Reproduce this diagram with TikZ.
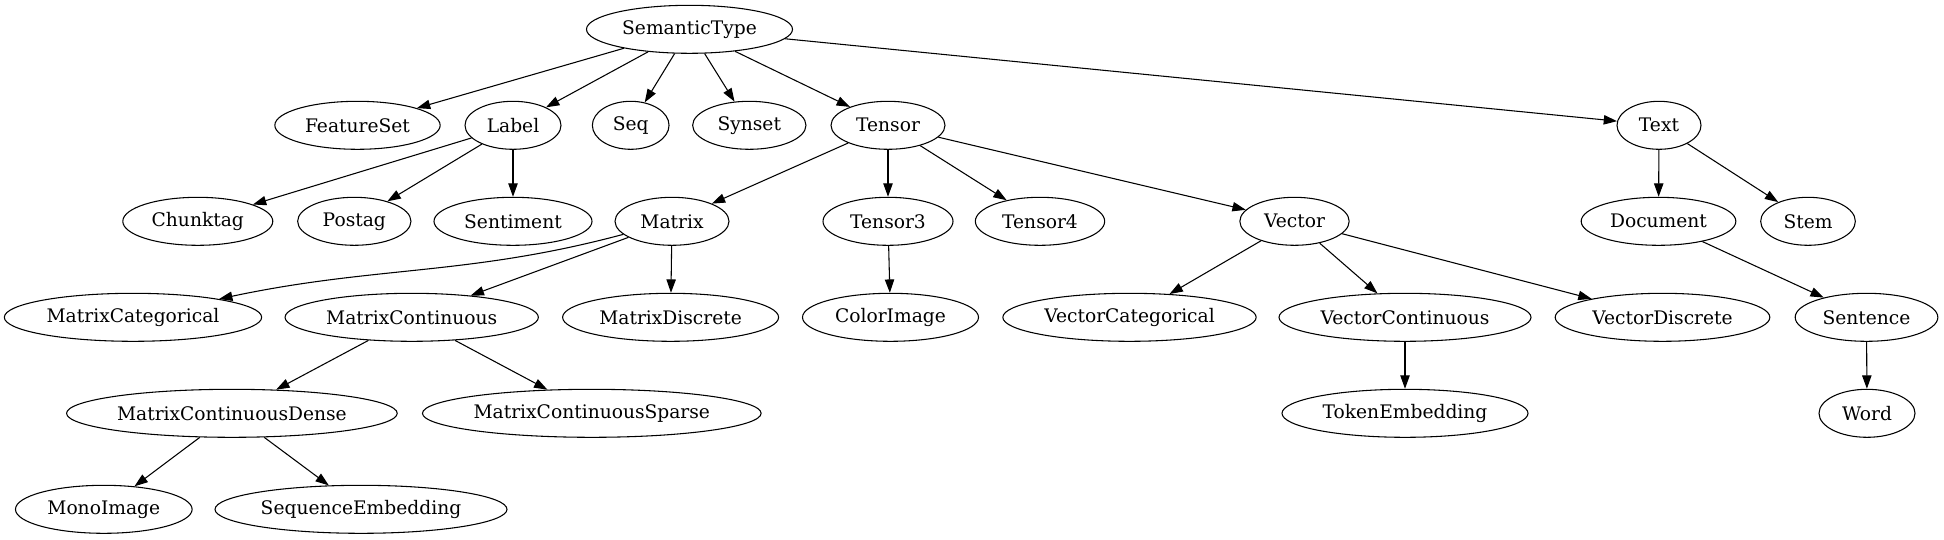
\documentclass[tikz,border=0pt]{standalone}
\usepackage{fontspec}
\setmainfont{DejaVu Serif}
\usepackage{tikz}
\usetikzlibrary{arrows.meta,shapes.geometric}

\begin{document}
\begin{tikzpicture}[
  x=0.75pt, y=-0.75pt,
  typ/.style={draw, ellipse, line width=0.8pt, inner sep=0pt, minimum height=36pt, font=\fontsize{14pt}{16pt}\selectfont},
  wd/.style={minimum width=#1pt},
  arr/.style={-{Triangle[length=10pt,width=7pt]}, line width=0.8pt}
]
\useasboundingbox (0,0) rectangle (1944,539);
\node[typ, wd=154.5] (sem) at (689.5,29.3) {SemanticType};
\node[typ, wd=124] (feat) at (357.5,125.3) {FeatureSet};
\node[typ, wd=72] (label) at (513,125.3) {Label};
\node[typ, wd=57.5] (seq) at (630.7,125.3) {Seq};
\node[typ, wd=85] (synset) at (749.3,125.3) {Synset};
\node[typ, wd=85.5] (tensor) at (888,125.3) {Tensor};
\node[typ, wd=63] (text) at (1659,125.3) {Text};
\node[typ, wd=112.5] (chunk) at (197.8,221.3) {Chunktag};
\node[typ, wd=85] (postag) at (354.3,221.3) {Postag};
\node[typ, wd=118.5] (senti) at (513,221.3) {Sentiment};
\node[typ, wd=85.5] (matrix) at (672,221.3) {Matrix};
\node[typ, wd=97.5] (tthree) at (888,221.3) {Tensor3};
\node[typ, wd=97] (tfour) at (1040,221.3) {Tensor4};
\node[typ, wd=82] (vector) at (1294.5,221.3) {Vector};
\node[typ, wd=116] (doc) at (1658.5,221.3) {Document};
\node[typ, wd=71] (stem) at (1808,221.3) {Stem};
\node[typ, wd=193] (mcat) at (133,317.3) {MatrixCategorical};
\node[typ, wd=190] (mcont) at (411.7,317.3) {MatrixContinuous};
\node[typ, wd=162] (mdisc) at (670.6,317.3) {MatrixDiscrete};
\node[typ, wd=132] (color) at (890.5,317.3) {ColorImage};
\node[typ, wd=190] (vcat) at (1129.5,317.3) {VectorCategorical};
\node[typ, wd=189] (vcont) at (1405,317.3) {VectorContinuous};
\node[typ, wd=161] (vdisc) at (1662.5,317.3) {VectorDiscrete};
\node[typ, wd=107] (sent) at (1866.5,317.3) {Sentence};
\node[typ, wd=248] (mdense) at (231.9,413.3) {MatrixContinuousDense};
\node[typ, wd=254] (msparse) at (591.8,413.3) {MatrixContinuousSparse};
\node[typ, wd=184.5] (token) at (1405,413.3) {TokenEmbedding};
\node[typ, wd=72] (word) at (1867,413.3) {Word};
\node[typ, wd=132.5] (mono) at (103.8,509.3) {MonoImage};
\node[typ, wd=219] (seqemb) at (361,509.3) {SequenceEmbedding};
% edges
\draw[arr] (sem)--(feat); \draw[arr] (sem)--(label); \draw[arr] (sem)--(seq);
\draw[arr] (sem)--(synset); \draw[arr] (sem)--(tensor); \draw[arr] (sem)--(text);
\draw[arr] (label)--(chunk); \draw[arr] (label)--(postag); \draw[arr] (label)--(senti);
\draw[arr] (tensor)--(matrix); \draw[arr] (tensor)--(tthree); \draw[arr] (tensor)--(tfour); \draw[arr] (tensor)--(vector);
\draw[arr] (text)--(doc); \draw[arr] (text)--(stem);
\draw[arr] (matrix) to[out=195,in=12] (mcat); \draw[arr] (matrix)--(mcont); \draw[arr] (matrix)--(mdisc);
\draw[arr] (tthree)--(color);
\draw[arr] (vector)--(vcat); \draw[arr] (vector)--(vcont); \draw[arr] (vector)--(vdisc);
\draw[arr] (doc)--(sent);
\draw[arr] (mcont)--(mdense); \draw[arr] (mcont)--(msparse);
\draw[arr] (vcont)--(token); \draw[arr] (sent)--(word);
\draw[arr] (mdense)--(mono); \draw[arr] (mdense)--(seqemb);
\end{tikzpicture}
\end{document}
